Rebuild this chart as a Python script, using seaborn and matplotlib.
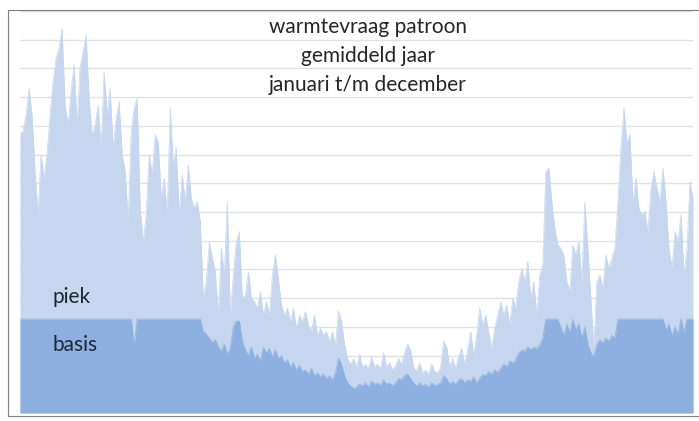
import numpy as np
import pandas as pd
import seaborn as sns
import matplotlib
matplotlib.use("Agg")
import matplotlib.pyplot as plt
from matplotlib.patches import Rectangle

# warmtevraag over het jaar (eenheid = 1 rasterlijn)
BASIS_MAX = 3.27

totaal = [
    # januari - half maart
    9.75, 9.80, 10.38, 11.31, 10.38, 8.41, 6.90, 8.99, 8.18, 8.99,
    10.38, 11.54, 12.36, 12.71, 13.40, 10.73, 10.03, 11.20, 12.13, 10.03,
    12.01, 12.59, 13.17, 10.96, 9.69, 10.03, 10.73, 9.22, 11.89, 10.38,
    11.31, 9.22, 10.27, 10.85, 8.99, 8.41, 6.67, 9.80,
    # maart - april
    10.62, 10.96, 7.13, 5.97, 6.90, 8.99, 8.29, 9.69, 9.45, 7.48,
    8.18, 6.90, 10.62, 8.64, 9.22, 6.90, 8.29, 7.36, 8.64, 7.48,
    7.13, 7.36, 6.67, 4.00, 4.58, 5.97, 5.39, 4.92, 3.41, 5.74,
    4.81, 7.36, 3.41, 4.81, 5.97, 6.32, 4.00,
    # mei - juni
    4.11, 4.92, 4.00, 3.88, 3.65, 4.23, 3.41, 3.88, 3.41, 4.81,
    5.51, 4.69, 3.76, 3.41, 3.65, 3.18, 3.65, 2.95, 3.41, 3.18,
    3.53, 3.07, 2.83, 3.41, 2.72, 2.95, 2.72, 2.83, 2.48, 2.83,
    2.37, 3.55, 3.20, 2.40, 1.90, 1.70, 1.90, 1.60,
    # juli - augustus
    2.05, 1.60, 1.70, 1.55, 1.95, 1.60, 1.70, 1.55, 2.10, 1.60,
    1.75, 1.50, 1.65, 1.90, 1.70, 2.10, 2.40, 2.20, 1.60, 1.45,
    1.75, 1.40, 1.50, 1.35, 1.70, 1.45, 1.40, 1.60, 2.50, 2.30,
    1.60, 1.90, 1.55, 2.00, 2.25, 1.70, 2.20,
    # september - oktober
    2.83, 2.02, 2.72, 3.65, 3.07, 3.41, 2.83, 2.25, 2.95, 3.41,
    3.88, 3.41, 3.76, 3.07, 4.00, 3.65, 4.58, 5.04, 4.58, 5.27,
    4.00, 4.58, 3.41, 4.81, 5.16, 8.41, 8.53, 7.36, 6.43, 5.85,
    5.74, 5.51, 4.58, 4.23, 5.85, 5.51, 5.97,
    # november - december
    4.58, 7.36, 5.74, 4.00, 2.25, 4.58, 4.81, 4.34, 5.51, 5.04,
    5.39, 5.74, 7.36, 9.22, 10.62, 9.45, 9.69, 7.36, 8.18, 7.13,
    6.90, 7.01, 6.32, 7.83, 8.41, 7.83, 7.36, 8.53, 7.36, 5.74,
    5.04, 6.32, 5.97, 6.90, 4.81, 5.74, 8.06, 7.48,
]

basis = (
    [BASIS_MAX] * 38 + [2.37] + [BASIS_MAX] * 22
    + [2.83, 2.75, 2.60, 2.45, 2.55, 2.30, 2.15, 2.40, 2.05, 2.25, 3.00, 3.20, 3.20, 2.50]
    + [2.20, 2.00, 2.30, 1.90, 2.05, 1.80, 2.30, 2.10, 2.25, 1.95,
       2.20, 1.90, 2.00, 1.75, 1.85, 1.60, 1.75, 1.50, 1.65, 1.45,
       1.50, 1.35, 1.55, 1.30, 1.40, 1.25, 1.35, 1.20, 1.30, 1.15, 1.40]
    + [1.90, 1.70, 1.30, 1.05, 0.95, 0.85, 0.90, 1.00, 0.95, 1.05,
       0.90, 1.10, 1.00, 1.05, 0.95, 1.15, 1.00, 1.05, 0.95, 1.05,
       1.20, 1.15, 1.30, 1.35, 1.20, 1.05, 0.95, 1.05, 0.95, 1.00,
       0.90, 1.05, 0.95, 1.00, 1.05, 1.30, 1.20, 1.00, 1.10, 1.00,
       1.15, 1.20, 1.05, 1.15]
    + [1.10, 1.25, 1.05, 1.20, 1.35, 1.30, 1.45, 1.35, 1.50, 1.40,
       1.55, 1.70, 1.60, 1.80, 1.75, 1.85, 2.10, 2.20, 2.15, 2.30,
       2.20, 2.30, 2.25, 2.35, 2.60]
    + [BASIS_MAX] * 5
    + [3.00, 2.70, 3.10, 2.80, BASIS_MAX, 2.90, 3.10]
    + [2.60, 3.00, 2.40, 2.10, 1.96, 2.40, 2.55, 2.45, 2.60, 2.50, 2.70, 2.60]
    + [BASIS_MAX] * 16
    + [2.90, 3.10, 2.70, 3.00, 2.75, BASIS_MAX, 2.80, BASIS_MAX, BASIS_MAX, BASIS_MAX]
)

titel = ["warmtevraag patroon", "gemiddeld jaar", "januari t/m december"]
labels = ["piek", "basis"]

df = pd.DataFrame({
    "uur": np.linspace(0, 8760, len(totaal)),
    "totaal": totaal,
    "basis": basis,
})

licht = "#c6d6ee"
donker = "#8eb0e0"

sns.set_theme(style="white")
plt.rcParams["font.family"] = ["Lato", "DejaVu Sans"]

fig = plt.figure(figsize=(6.99, 4.21), dpi=100)
ax = fig.add_axes([20 / 699, 8 / 421, 673 / 699, 402 / 421])

sns.lineplot(data=df, x="uur", y="totaal", color=licht, lw=0.5, ax=ax)
ax.fill_between(df["uur"], df["totaal"], color=licht, lw=0)
sns.lineplot(data=df, x="uur", y="basis", color=donker, lw=0.5, ax=ax)
ax.fill_between(df["uur"], df["basis"], color=donker, lw=0)

ax.set_xlim(0, 8760)
ax.set_ylim(0, 14)
ax.set_yticks(range(0, 15))
ax.yaxis.grid(True, color="#e2e2e2", lw=1)
ax.set_axisbelow(True)
ax.set_xticks([])
ax.set_yticklabels([])
ax.tick_params(left=False, bottom=False)
ax.set_xlabel("")
ax.set_ylabel("")
for s in ax.spines.values():
    s.set_visible(False)

# titel
for regel, y in zip(titel, [33, 62, 91]):
    fig.text(368 / 699, 1 - y / 421, regel, ha="center", va="baseline",
             fontsize=15, color="#262626")

ax.text(0.049, 1 - (303 - 11) / 402, labels[0], transform=ax.transAxes,
        fontsize=15, color="#1f2633", va="baseline")
ax.text(0.049, 1 - (351 - 11) / 402, labels[1], transform=ax.transAxes,
        fontsize=15, color="#1f2633", va="baseline")

# kader (rechterkant valt buiten beeld, zoals in het origineel)
fig.add_artist(Rectangle((8 / 699, 5 / 421), 700 / 699, 406 / 421,
                         transform=fig.transFigure, fill=False,
                         edgecolor="#7f7f7f", lw=0.8))

fig.savefig("out.png", dpi=100)
